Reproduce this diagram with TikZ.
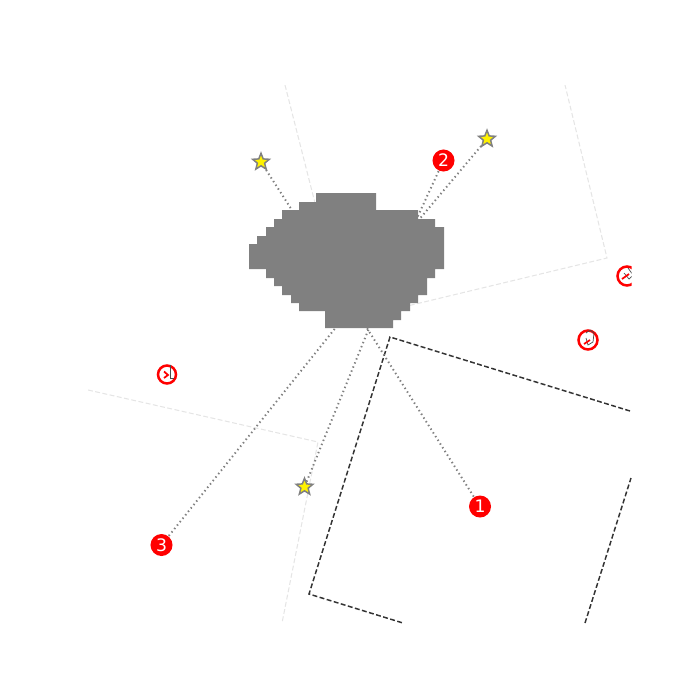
\documentclass[tikz,border=0pt]{standalone}
\usepackage{fontspec}
\setmainfont{DejaVu Sans}
\usetikzlibrary{shapes.geometric}

\tikzset{
	goalstar/.style={star, star points=5, star point ratio=2.3, draw=gray, line width=0.42pt, fill=yellow, minimum size=1.75mm, inner sep=0pt},
	numdot/.style={circle, fill=red, text=white, minimum size=2.2mm, inner sep=0pt, font=\fontsize{4.9}{4.9}\selectfont},
	sightline/.style={gray, line width=0.55pt, dash pattern=on 0.4pt off 0.85pt},
	faintline/.style={black!10, line width=0.3pt, dash pattern=on 1.4pt off 0.7pt},
	darkline/.style={black!80, line width=0.42pt, dash pattern=on 1.4pt off 0.7pt},
	ringmark/.style={red, line width=0.72pt},
	tickmark/.style={black!70, line width=0.2pt},
	redtick/.style={red, line width=0.5pt}
}

\begin{document}
\begin{tikzpicture}[x=0.01cm, y=-0.01cm]
	\useasboundingbox (0,0) rectangle (700,700);
	
	\begin{scope}
	\clip (88,85) rectangle (631.5,623.5);
	
	%rooms
	\draw[faintline] (285,85) -- (345,321) -- (607,258) -- (565,85);
	\draw[faintline] (88,390) -- (318,442) -- (282,623);
	\draw[darkline] (630,411) -- (390,337) -- (309,594) -- (403,623);
	\draw[darkline] (585,623) -- (631,478);
	
	%rings
	\draw[ringmark] (167,374.5) circle[radius=9];
	\draw[tickmark] (170,365) -- (170,378) -- (174,378);
	\draw[redtick] (164,371.5) -- (168,375) -- (164,378);
	
	\draw[ringmark] (588,340) circle[radius=9.5];
	\draw[tickmark] (586,333) -- (590,330) -- (594,333) -- (593,342) -- (588,345) -- (586,338);
	\draw[redtick] (584,344) -- (590,340);
	
	\draw[ringmark] (627,276) circle[radius=9.5];
	\draw[tickmark] (624,273) -- (629,279) -- (633,275) -- (628,268);
	\draw[redtick] (622,279) -- (629,274);
	\end{scope}
	
	%goals and anchors
	\node[goalstar] (goalA) at (261,162) {};
	\node[goalstar] (goalB) at (487,139) {};
	\node[goalstar] (goalC) at (304.5,487) {};
	\node[numdot] (numA) at (480,506.5) {1};
	\node[numdot] (numB) at (443.5,160.5) {2};
	\node[numdot] (numC) at (161.5,545) {3};
	
	\coordinate (endA) at (297,218);
	\coordinate (endB) at (412,228);
	\coordinate (endC) at (374,316);
	\coordinate (endD) at (358,314);
	\coordinate (endE) at (412,229);
	\coordinate (endF) at (345,316);
	
	%sight lines
	\draw[sightline] (goalA) -- (endA);
	\draw[sightline] (goalB) -- (endB);
	\draw[sightline] (goalC) -- (endC);
	\draw[sightline] (numA) -- (endD);
	\draw[sightline] (numB) -- (endE);
	\draw[sightline] (numC) -- (endF);
	
	%the occupied cells
	\fill[gray] (316,193) -- (376,193) -- (376,210) -- (418,210) -- (418,219) -- (435,219) -- (435,227) -- (444,227)
		-- (444,269) -- (435,269) -- (435,278) -- (427,278) -- (427,295) -- (418,295) -- (418,303) -- (410,303)
		-- (410,311) -- (401,311) -- (401,320) -- (393,320) -- (393,328) -- (325,328) -- (325,311) -- (299,311)
		-- (299,303) -- (291,303) -- (291,295) -- (282,295) -- (282,286) -- (274,286) -- (274,278) -- (266,278)
		-- (266,269) -- (249,269) -- (249,244) -- (257,244) -- (257,236) -- (266,236) -- (266,227) -- (274,227)
		-- (274,219) -- (282,219) -- (282,210) -- (299,210) -- (299,202) -- (316,202) -- cycle;
\end{tikzpicture}
\end{document}
